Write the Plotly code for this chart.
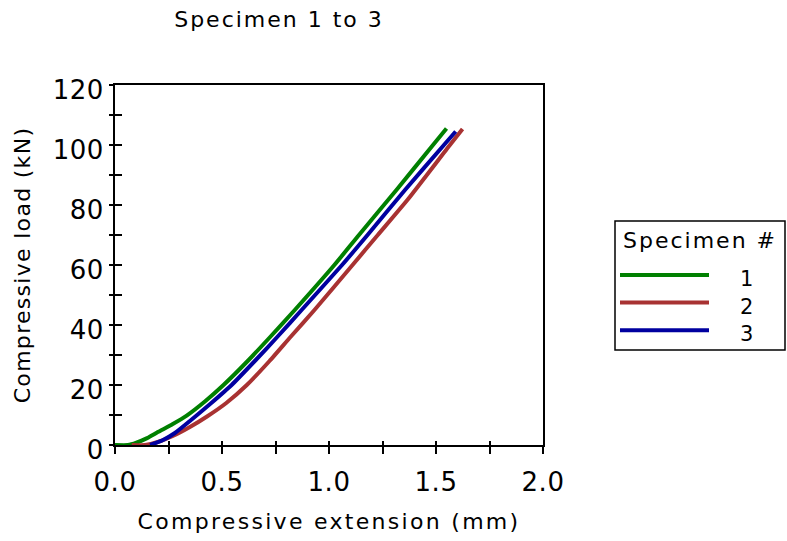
import plotly.graph_objects as go

# ---------------- data ----------------
load_1 = [0, 0, 0.8, 2.3, 4.3, 7, 9.8, 14.5, 20, 28, 36, 45, 60, 70, 85, 100, 105.5]
ext_1 = [0.0, 0.06, 0.10, 0.15, 0.20, 0.27, 0.335, 0.42, 0.507, 0.62, 0.725, 0.84, 1.025, 1.14, 1.315, 1.486, 1.549]

load_2 = [0, 0, 1, 3, 6, 9.5, 14, 20, 28, 36, 45, 60, 70, 82, 100, 105.3]
ext_2 = [0.078, 0.14, 0.20, 0.27, 0.35, 0.43, 0.52, 0.616, 0.722, 0.82, 0.932, 1.11, 1.228, 1.37, 1.565, 1.624]

load_3 = [0, 1.5, 4, 8, 14, 20, 28.5, 36, 45, 60, 70, 85, 100, 104.5]
ext_3 = [0.164, 0.22, 0.28, 0.35, 0.45, 0.545, 0.66, 0.758, 0.872, 1.061, 1.18, 1.355, 1.537, 1.592]

series_names = ["1", "2", "3"]
series_colors = ["#008000", "#A83232", "#0000A0"]

x_ticks = [0.0, 0.5, 1.0, 1.5, 2.0]
y_ticks = [0, 20, 40, 60, 80, 100, 120]

# ---------------- layout geometry ----------------
W, H = 787, 541
ML, MR, MT, MB = 115, 244, 85, 96
PW, PH = W - ML - MR, H - MT - MB
FONT = "DejaVu Sans, Verdana, sans-serif"


def px_x(p):
    return (p - ML) / PW


def px_y(p):
    return (H - MB - p) / PH


fig = go.Figure()
for ext, load, name, col in zip([ext_1, ext_2, ext_3], [load_1, load_2, load_3],
                                series_names, series_colors):
    fig.add_trace(go.Scatter(x=ext, y=load, mode="lines", name=name,
                             line=dict(color=col, width=4, shape="spline", smoothing=0.5),
                             cliponaxis=False, showlegend=False))

# empty trace so that the overlay axes (inner half of the crossing ticks) are drawn
fig.add_trace(go.Scatter(x=[], y=[], xaxis="x2", yaxis="y2", showlegend=False,
                         hoverinfo="skip"))

axis_common = dict(showgrid=False, zeroline=False)

fig.update_layout(
    width=W, height=H,
    margin=dict(l=ML, r=MR, t=MT, b=MB, autoexpand=False),
    paper_bgcolor="white", plot_bgcolor="white",
    font=dict(family=FONT, color="black", size=22),
    title=dict(text="Specimen 1 to 3", x=279 / W, xref="container", xanchor="center",
               y=1 - 19 / H, yref="container", yanchor="middle",
               font=dict(family=FONT, size=22, color="black")),
    xaxis=dict(range=[0, 2], tickvals=x_ticks, ticktext=[f"{v:.1f}" for v in x_ticks],
               ticks="outside", ticklen=7, tickwidth=2, tickcolor="black",
               minor=dict(dtick=0.25, tick0=0, ticks="outside", ticklen=7, tickwidth=2, tickcolor="black"),
               showline=True, linewidth=2, linecolor="black", mirror=True,
               tickfont=dict(family=FONT, size=26), ticklabelstandoff=6,
               title=dict(text="Compressive extension (mm)", standoff=17,
                          font=dict(family=FONT, size=22)),
               layer="below traces", **axis_common),
    xaxis2=dict(range=[0, 2], overlaying="x", anchor="y2", side="bottom",
                tickvals=x_ticks, ticks="inside", ticklen=4, tickwidth=2, tickcolor="black",
                minor=dict(dtick=0.25, tick0=0, ticks="inside", ticklen=4, tickwidth=2, tickcolor="black"),
                showticklabels=False, showline=False, layer="below traces", **axis_common),
    yaxis=dict(range=[0, 120], tickvals=y_ticks,
               ticks="outside", ticklen=4, tickwidth=2, tickcolor="black",
               minor=dict(dtick=10, tick0=0, ticks="outside", ticklen=4, tickwidth=2, tickcolor="black"),
               showline=True, linewidth=2, linecolor="black", mirror=True,
               tickfont=dict(family=FONT, size=26), ticklabelstandoff=0, ticklabelshift=5,
               title=dict(text="Compressive load (kN)", standoff=17,
                          font=dict(family=FONT, size=22)),
               layer="below traces", **axis_common),
    yaxis2=dict(range=[0, 120], overlaying="y", anchor="x2", side="left",
                tickvals=y_ticks, ticks="inside", ticklen=7, tickwidth=2, tickcolor="black",
                minor=dict(dtick=10, tick0=0, ticks="inside", ticklen=7, tickwidth=2, tickcolor="black"),
                showticklabels=False, showline=False, layer="below traces", **axis_common),
)

# ---------------- manual legend ----------------
fig.add_shape(type="rect", xref="paper", yref="paper",
              x0=px_x(615), x1=px_x(785), y0=px_y(350), y1=px_y(221),
              line=dict(color="black", width=1.5), fillcolor="rgba(0,0,0,0)")
fig.add_annotation(text="Specimen #", xref="paper", yref="paper", x=px_x(700), y=px_y(240),
                   xanchor="center", yanchor="middle", showarrow=False,
                   font=dict(family=FONT, size=22, color="black"))
for i, (name, col) in enumerate(zip(series_names, series_colors)):
    ly = 275 + i * 27.6
    fig.add_shape(type="line", xref="paper", yref="paper",
                  x0=px_x(620), x1=px_x(709), y0=px_y(ly), y1=px_y(ly),
                  line=dict(color=col, width=4))
    fig.add_annotation(text=name, xref="paper", yref="paper", x=px_x(747), y=px_y(ly + 4),
                       xanchor="center", yanchor="middle", showarrow=False,
                       font=dict(family=FONT, size=21, color="black"))

post = ("var s=document.createElement('style');"
        "s.textContent='.main-svg text{letter-spacing:2px}"
        ".main-svg .xtitle{letter-spacing:2.3px}"
        ".main-svg .ytitle{letter-spacing:1.3px}"
        ".main-svg .xtick text,.main-svg .ytick text{letter-spacing:0.5px}';"
        "document.head.appendChild(s);")
fig.write_html("out.html", post_script=post)
